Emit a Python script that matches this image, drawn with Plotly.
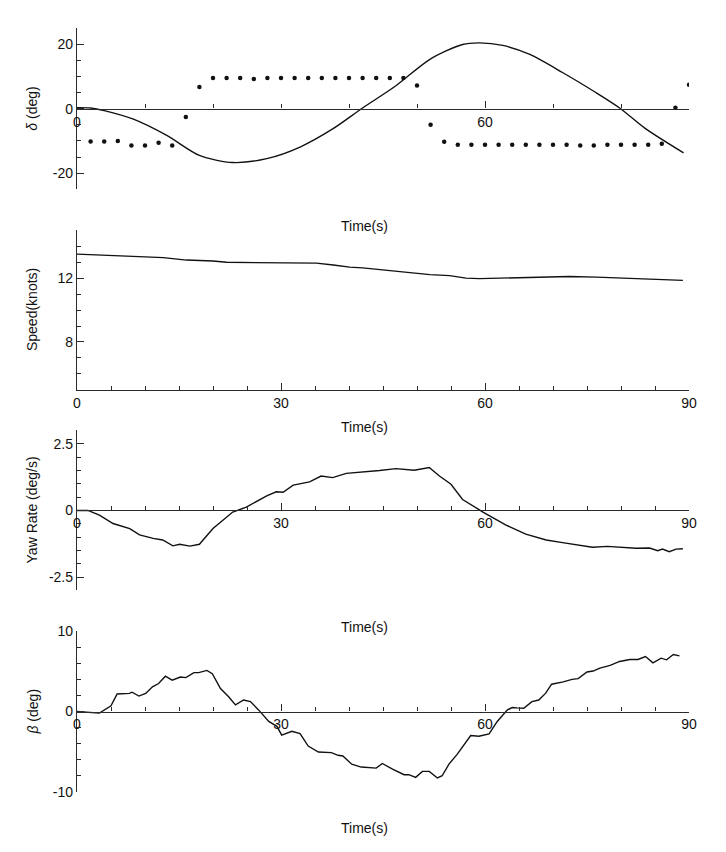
import plotly.graph_objects as go

# ---------------- data ----------------
# Panel 1: rudder angle delta (deg), smooth curve
t_delta = [0, 2, 4, 8.2, 13.2, 18.0, 22.9, 27.9, 32.8, 37.6, 42.0, 46.9, 51.9,
           56.7, 59.2, 62.6, 66.6, 71.4, 76.3, 79.8, 83.6, 89.2]
delta = [0.3, 0.2, -0.6, -3.2, -8.3, -14.5, -16.7, -15.5, -11.9, -6.3, 0.2, 7.1, 15.3,
         19.9, 20.4, 19.6, 16.8, 11.2, 5.0, 0.2, -6.2, -13.7]

# Panel 1: dotted series (every 2 s)
t_dots = [2, 4, 6, 8, 10, 12, 14, 16, 18, 20, 22, 24, 26, 28, 30, 32, 34, 36, 38, 40,
          42, 44, 46, 48, 50, 52, 54, 56, 58, 60, 62, 64, 66, 68, 70, 72, 74, 76, 78, 80,
          82, 84, 86, 88, 90]
dots = [-10.2, -10.2, -10.0, -11.4, -11.4, -10.6, -11.4, -2.6, 6.7, 9.5, 9.5, 9.5, 9.2, 9.5,
        9.5, 9.5, 9.5, 9.5, 9.5, 9.5, 9.5, 9.5, 9.5, 9.5, 7.2, -5.0, -10.3, -11.2, -11.2,
        -11.2, -11.2, -11.2, -11.2, -11.2, -11.2, -11.2, -11.4, -11.4, -11.2, -11.2, -11.2,
        -11.2, -10.9, 0.3, 7.4]

# Panel 2: speed (knots)
t_speed = [0, 3.3, 8.3, 12.7, 16.1, 20.0, 22.0, 25.4, 30.3, 35.2, 37.7, 40.1, 42.0, 45.0,
           48.4, 51.9, 54.8, 57.2, 59.2, 64.1, 69.0, 72.4, 76.4, 80.3, 84.2, 89.1]
speed = [13.5, 13.44, 13.34, 13.28, 13.13, 13.07, 12.99, 12.97, 12.97, 12.93, 12.82, 12.68,
         12.64, 12.52, 12.37, 12.21, 12.16, 12.0, 11.96, 12.0, 12.06, 12.1, 12.06, 12.0,
         11.94, 11.86]

# Panel 3: yaw rate (deg/s)
t_yaw = [0, 1.6, 3.3, 5.3, 7.75, 9.2, 11.2, 12.6, 14.1, 15.1, 16.6, 18.0, 20.0, 22.9, 24.9,
         27.9, 29.3, 30.3, 31.8, 34.2, 35.9, 37.6, 39.6, 42.0, 44.5, 46.9, 49.6, 51.8, 53.3,
         55.0, 56.7, 59.7, 63.1, 66.0, 69.0, 71.4, 75.8, 78.0, 80.2, 82.2, 84.2, 85.4, 86.1,
         87.1, 88.1, 89.1]
yaw = [0, 0, -0.18, -0.49, -0.68, -0.92, -1.05, -1.11, -1.33, -1.27, -1.34, -1.27, -0.68,
       -0.06, 0.12, 0.55, 0.70, 0.68, 0.95, 1.07, 1.29, 1.23, 1.39, 1.44, 1.50, 1.57, 1.51,
       1.61, 1.29, 0.98, 0.41, -0.06, -0.55, -0.89, -1.11, -1.21, -1.38, -1.35, -1.39, -1.42,
       -1.41, -1.51, -1.45, -1.55, -1.45, -1.44]

# Panel 4: drift angle beta (deg)
t_beta = [0, 2.3, 3.3, 5.0, 5.9, 7.7, 8.1, 9.1, 10.1, 11.1,
          12.0, 13.0, 14.0, 15.2, 16.0, 17.2, 17.9, 19.1, 19.9, 21.1,
          22.3, 23.3, 24.5, 25.5, 26.7, 28.2, 29.4, 30.1, 31.6, 32.8,
          34.0, 35.5, 37.4, 38.4, 39.1, 40.4, 41.8, 44.0, 44.9, 46.4,
          48.1, 48.8, 49.8, 50.8, 51.8, 53.0, 53.7, 54.7, 55.9, 57.9,
          59.1, 60.6, 61.8, 63.3, 64.0, 64.7, 65.7, 66.9, 67.9, 68.9,
          69.8, 71.5, 72.8, 73.7, 75.0, 75.9, 76.9, 78.4, 79.8, 81.3,
          82.5, 83.6, 84.7, 85.9, 86.7, 87.7, 88.6]
beta = [0, -0.12, -0.2, 0.7, 2.17, 2.25, 2.4, 1.92, 2.25, 3.07,
        3.48, 4.38, 3.89, 4.29, 4.21, 4.83, 4.83, 5.11, 4.70, 2.86,
        1.84, 0.82, 1.43, 1.23, 0.2, -1.23, -1.84, -2.94, -2.45, -2.74,
        -4.29, -5.03, -5.11, -5.44, -5.52, -6.54, -6.9, -7.03, -6.46, -7.16,
        -7.85, -7.85, -8.18, -7.44, -7.44, -8.26, -7.98, -6.54, -5.32, -2.99,
        -3.07, -2.78, -1.23, 0.2, 0.49, 0.45, 0.41, 1.23, 1.43, 2.25,
        3.39, 3.68, 4.0, 4.09, 4.91, 5.03, 5.40, 5.73, 6.22, 6.46,
        6.46, 6.83, 6.05, 6.63, 6.42, 7.08, 6.91]

# tick definitions
x1_ticks, x1_text = [0, 60], ["0", "60"]
x_ticks, x_text = [0, 30, 60, 90], ["0", "30", "60", "90"]
y1_ticks, y1_text = [-20, 0, 20], ["-20", "0", "20"]
y2_ticks, y2_text = [8, 12], ["8", "12"]
y3_ticks, y3_text = [-2.5, 0, 2.5], ["-2.5", "0", "2.5"]
y4_ticks, y4_text = [-10, 0, 10], ["-10", "0", "10"]
y_titles = ["<i>δ</i> (deg)", "Speed(knots)", "Yaw Rate (deg/s)", "<i>β</i> (deg)"]

# ---------------- layout ----------------
FONT = "Liberation Sans, Arial, Helvetica, sans-serif"
INK = "#111111"
AX = "#2a2a2a"

domains = [(0.7889, 1.0), (0.5263, 0.7354), (0.2639, 0.4732), (0.0, 0.2107)]
yranges = [(-25, 25), (5, 15), (-3, 3), (-10, 10)]

fig = go.Figure()
fig.add_trace(go.Scatter(x=t_delta, y=delta, mode="lines",
                         line=dict(color=INK, width=1.4, shape="spline", smoothing=0.8),
                         xaxis="x", yaxis="y", showlegend=False))
fig.add_trace(go.Scatter(x=t_dots, y=dots, mode="markers", marker=dict(color=INK, size=4.5),
                         xaxis="x", yaxis="y", showlegend=False))
fig.add_trace(go.Scatter(x=t_speed, y=speed, mode="lines", line=dict(color=INK, width=1.3),
                         xaxis="x2", yaxis="y2", showlegend=False))
fig.add_trace(go.Scatter(x=t_yaw, y=yaw, mode="lines", line=dict(color=INK, width=1.4),
                         xaxis="x3", yaxis="y3", showlegend=False))
fig.add_trace(go.Scatter(x=t_beta, y=beta, mode="lines", line=dict(color=INK, width=1.4),
                         xaxis="x4", yaxis="y4", showlegend=False))


def xaxis(tv, tt, minor_dtick, yaxis_name, dom, yr, at_zero):
    d = dict(range=[0, 90], domain=[0, 1], showline=True, linecolor=AX, linewidth=1.3,
             ticks="inside", ticklen=7, tickwidth=1.3, tickcolor=AX,
             tickmode="array", tickvals=tv, ticktext=tt, showgrid=False, zeroline=False,
             tickfont=dict(family=FONT, size=14, color=INK),
             minor=dict(ticks="inside", ticklen=4, tickwidth=1.2, tickcolor=AX,
                        dtick=minor_dtick, tick0=0, showgrid=False))
    if at_zero:
        frac = (0 - yr[0]) / (yr[1] - yr[0])
        d["anchor"] = "free"
        d["position"] = dom[0] + frac * (dom[1] - dom[0])
    else:
        d["anchor"] = yaxis_name
    return d


def yaxis(tv, tt, minor_dtick, xname, dom, yr):
    return dict(range=list(yr), domain=list(dom), anchor=xname, showline=True, linecolor=AX,
                linewidth=1.3, ticks="inside", ticklen=7, tickwidth=1.3, tickcolor=AX,
                tickmode="array", tickvals=tv, ticktext=tt, showgrid=False, zeroline=False,
                tickfont=dict(family=FONT, size=14, color=INK),
                minor=dict(ticks="inside", ticklen=4, tickwidth=1.2, tickcolor=AX,
                           dtick=minor_dtick, tick0=0, showgrid=False))


layout = dict(
    width=710, height=836,
    margin=dict(l=69, r=29, t=12, b=52),
    paper_bgcolor="white", plot_bgcolor="white",
    font=dict(family=FONT, size=14, color=INK),
    xaxis=xaxis(x1_ticks, x1_text, 10, "y", domains[0], yranges[0], True),
    xaxis2=xaxis(x_ticks, x_text, 5, "y2", domains[1], yranges[1], False),
    xaxis3=xaxis(x_ticks, x_text, 5, "y3", domains[2], yranges[2], True),
    xaxis4=xaxis(x_ticks, x_text, 5, "y4", domains[3], yranges[3], True),
    yaxis=yaxis(y1_ticks, y1_text, 5, "x", domains[0], yranges[0]),
    yaxis2=yaxis(y2_ticks, y2_text, 1, "x2", domains[1], yranges[1]),
    yaxis3=yaxis(y3_ticks, y3_text, 0.5, "x3", domains[2], yranges[2]),
    yaxis4=yaxis(y4_ticks, y4_text, 2, "x4", domains[3], yranges[3]),
)
fig.update_layout(**layout)

annots = []
time_y = [0.741, 0.478, 0.2163, -0.0466]
for i in range(4):
    annots.append(dict(text="Time(s)", xref="paper", yref="paper", x=0.470, y=time_y[i],
                       xanchor="center", yanchor="middle", showarrow=False,
                       font=dict(family=FONT, size=14, color=INK)))
    dom = domains[i]
    annots.append(dict(text=y_titles[i], xref="paper", yref="paper", x=-0.0735,
                       y=(dom[0] + dom[1]) / 2, xanchor="center", yanchor="middle",
                       textangle=-90, showarrow=False,
                       font=dict(family=FONT, size=14, color=INK)))
fig.update_layout(annotations=annots)

fig.write_html("out.html")
